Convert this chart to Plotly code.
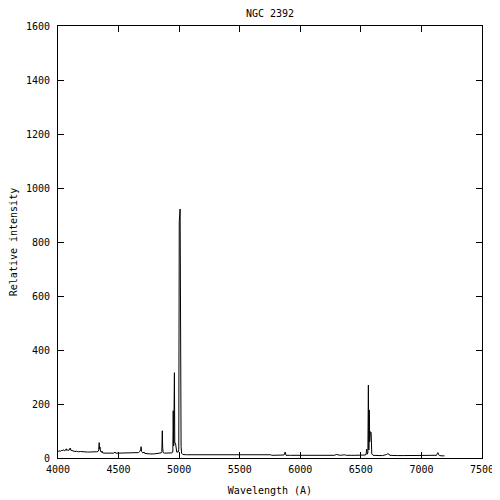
import plotly.graph_objects as go

# Spectrum of NGC 2392
wavelength = [
    4000, 4008, 4015, 4022, 4030, 4036, 4045, 4052, 4060, 4068, 4072, 4080, 4090, 4096,
    4101, 4106, 4115, 4125, 4140, 4155, 4170, 4185, 4200, 4215, 4230, 4245, 4260, 4275,
    4290, 4305, 4320, 4330, 4336, 4340, 4343, 4347, 4351, 4358, 4363, 4368, 4380, 4400,
    4420, 4440, 4460, 4471, 4476, 4500, 4530, 4560, 4590, 4620, 4650, 4665, 4675, 4682,
    4686, 4690, 4700, 4711, 4716, 4730, 4760, 4790, 4820, 4840, 4852, 4857, 4861, 4864,
    4868, 4880, 4900, 4920, 4940, 4948, 4951, 4955, 4961, 4964, 4970, 4980, 4992, 4997,
    5001, 5008, 5012, 5016, 5020, 5030, 5060, 5100, 5150, 5200, 5250, 5300, 5350, 5400,
    5434, 5440, 5462, 5470, 5500, 5520, 5540, 5560, 5580, 5600, 5620, 5650, 5682, 5690,
    5720, 5756, 5765, 5800, 5840, 5865, 5876, 5882, 5920, 5960, 6000, 6050, 6100, 6150,
    6180, 6210, 6250, 6280, 6300, 6312, 6330, 6350, 6364, 6380, 6400, 6420, 6450, 6480,
    6510, 6530, 6540, 6545, 6548, 6553, 6558, 6562, 6566, 6569, 6573, 6578, 6585, 6590,
    6600, 6620, 6650, 6680, 6700, 6712, 6717, 6724, 6731, 6738, 6760, 6800, 6850, 6900,
    6950, 7000, 7050, 7100, 7125, 7131, 7136, 7141, 7148, 7170, 7190,
]
intensity = [
    26, 24, 27, 25, 29, 26, 31, 27, 28, 34, 28, 30, 28, 33,
    37, 29, 27, 25, 24, 25, 23, 24, 23, 22, 23, 22, 22, 23,
    22, 23, 23, 24, 30, 57, 33, 40, 24, 21, 26, 19, 18, 18,
    18, 18, 18, 22, 18, 18, 18, 18, 18, 18, 19, 20, 24, 30,
    42, 24, 19, 22, 17, 16, 15, 15, 16, 17, 19, 24, 101, 40,
    20, 18, 18, 18, 19, 22, 175, 45, 316, 55, 55, 22, 22, 30,
    875, 922, 60, 42, 18, 13, 12, 12, 12, 11, 11, 11, 11, 11,
    13, 11, 13, 11, 11, 12, 13, 12, 13, 12, 11, 11, 13, 11,
    11, 12, 10, 10, 10, 11, 22, 10, 10, 10, 10, 10, 10, 10,
    11, 10, 11, 10, 13, 11, 10, 11, 12, 10, 11, 10, 10, 10,
    10, 10, 11, 20, 33, 14, 20, 270, 30, 178, 60, 97, 95, 15,
    10, 9, 9, 9, 10, 13, 15, 14, 15, 10, 9, 9, 9, 9,
    9, 9, 9, 9, 10, 16, 20, 14, 9, 8, 8,
]

x_ticks = [4000, 4500, 5000, 5500, 6000, 6500, 7000, 7500]
y_ticks = [0, 200, 400, 600, 800, 1000, 1200, 1400, 1600]

FONT = "DejaVu Sans Mono"
OFF = 8  # page body margin offset

fig = go.Figure()
fig.add_trace(go.Scatter(
    x=wavelength, y=intensity, mode="lines",
    line=dict(color="black", width=1), showlegend=False,
))

axis_common = dict(
    ticks="inside", ticklen=6, tickwidth=1, tickcolor="black",
    showline=True, linecolor="black", linewidth=1, mirror="ticks",
    showgrid=False, zeroline=False,
    tickfont=dict(family=FONT, size=10, color="black"),
    title_font=dict(family=FONT, size=10, color="black"),
)

fig.update_layout(
    width=500, height=500,
    margin=dict(l=58 - OFF, r=18 + OFF, t=26 - OFF, b=42 + OFF, autoexpand=False),
    paper_bgcolor="white", plot_bgcolor="white",
    font=dict(family=FONT, size=10, color="black"),
    title=dict(text="NGC 2392", x=0.5, xref="paper", y=1 - (13.5 - OFF) / 500,
               yref="container", yanchor="middle", xanchor="center",
               font=dict(family=FONT, size=10, color="black")),
    xaxis=dict(range=[4000, 7500], tickvals=x_ticks, ticktext=[str(v) for v in x_ticks],
               ticklabelstandoff=2,
               title=dict(text="Wavelength (A)", standoff=12), **axis_common),
    yaxis=dict(range=[0, 1600], tickvals=y_ticks, ticktext=[str(v) for v in y_ticks],
               ticklabelstandoff=5,
               title=dict(text="Relative intensity", standoff=8), **axis_common),
)

fig.write_html("out.html")
